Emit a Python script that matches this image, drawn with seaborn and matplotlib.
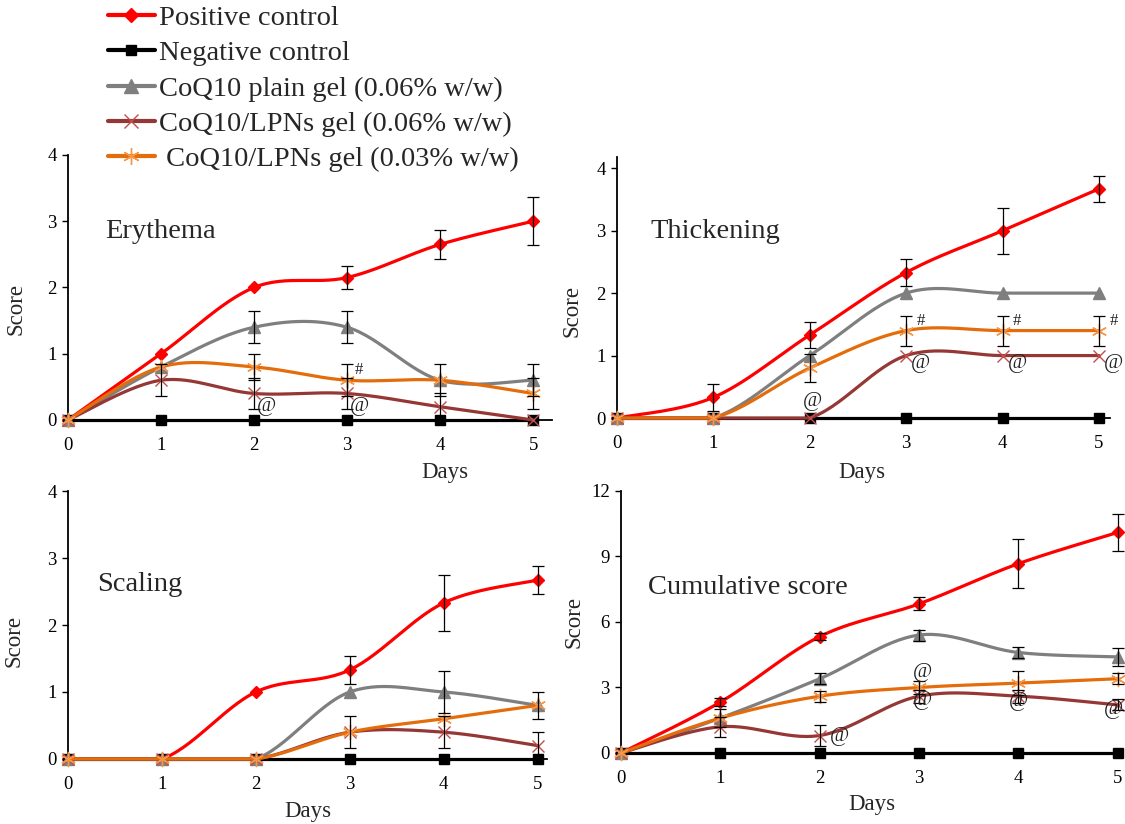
import numpy as np
import pandas as pd
import matplotlib
matplotlib.use("Agg")
import matplotlib.pyplot as plt
import seaborn as sns
from matplotlib.lines import Line2D

# ---------------- data ----------------
days = [0, 1, 2, 3, 4, 5]
series_names = ["Positive control", "Negative control",
                "CoQ10 plain gel (0.06% w/w)", "CoQ10/LPNs gel (0.06% w/w)",
                " CoQ10/LPNs gel (0.03% w/w)"]

# Erythema
ery_pos = [0, 1.0, 2.0, 2.15, 2.65, 3.0]
ery_pos_err = [0, 0, 0, 0.17, 0.22, 0.36]
ery_neg = [0, 0, 0, 0, 0, 0]
ery_plain = [0, 0.8, 1.4, 1.4, 0.6, 0.6]
ery_plain_err = [0, 0, 0.24, 0.24, 0.24, 0.24]
ery_lpn06 = [0, 0.6, 0.4, 0.4, 0.2, 0.0]
ery_lpn06_err = [0, 0.24, 0.24, 0.24, 0.2, 0]
ery_lpn03 = [0, 0.8, 0.8, 0.6, 0.6, 0.4]
ery_lpn03_err = [0, 0, 0.2, 0.24, 0, 0.24]
ery_marks = [(2.13, 0.2, "@"), (3.13, 0.2, "@"), (3.13, 0.75, "#")]

# Thickening
th_pos = [0, 0.33, 1.33, 2.33, 3.0, 3.67]
th_pos_err = [0, 0.21, 0.21, 0.21, 0.37, 0.21]
th_neg = [0, 0, 0, 0, 0, 0]
th_plain = [0, 0, 1.0, 2.0, 2.0, 2.0]
th_plain_err = [0, 0, 0, 0, 0, 0]
th_lpn06 = [0, 0, 0, 1.0, 1.0, 1.0]
th_lpn06_err = [0, 0, 0, 0, 0, 0]
th_lpn03 = [0, 0, 0.8, 1.4, 1.4, 1.4]
th_lpn03_err = [0, 0, 0.22, 0.24, 0.24, 0.24]
th_marks = [(2.03, 0.27, "@"), (3.15, 0.88, "@"), (4.15, 0.88, "@"), (5.15, 0.88, "@"),
            (3.15, 1.55, "#"), (4.15, 1.55, "#"), (5.15, 1.55, "#")]

# Scaling
sc_pos = [0, 0, 1.0, 1.33, 2.33, 2.67]
sc_pos_err = [0, 0, 0, 0.21, 0.42, 0.21]
sc_neg = [0, 0, 0, 0, 0, 0]
sc_plain = [0, 0, 0, 1.0, 1.0, 0.8]
sc_plain_err = [0, 0, 0, 0, 0.32, 0.2]
sc_lpn06 = [0, 0, 0, 0.4, 0.4, 0.2]
sc_lpn06_err = [0, 0, 0, 0.24, 0.24, 0.2]
sc_lpn03 = [0, 0, 0, 0.4, 0.6, 0.8]
sc_lpn03_err = [0, 0, 0, 0, 0, 0]
sc_marks = []

# Cumulative score
cu_pos = [0, 2.33, 5.33, 6.83, 8.67, 10.1]
cu_pos_err = [0, 0.2, 0.15, 0.3, 1.12, 0.85]
cu_neg = [0, 0, 0, 0, 0, 0]
cu_plain = [0, 1.6, 3.4, 5.4, 4.6, 4.4]
cu_plain_err = [0, 0, 0.25, 0.25, 0.25, 0.4]
cu_lpn06 = [0, 1.2, 0.8, 2.6, 2.6, 2.2]
cu_lpn06_err = [0, 0.45, 0.5, 0.3, 0.3, 0.25]
cu_lpn03 = [0, 1.6, 2.6, 3.0, 3.2, 3.4]
cu_lpn03_err = [0, 0.4, 0.25, 0.3, 0.55, 0.25]
cu_marks = [(2.2, 0.75, "@"), (3.03, 3.7, "@"), (3.03, 2.4, "@"), (4.0, 2.35, "@"), (4.96, 2.0, "@")]

# ---------------- style ----------------
sns.set_theme(style="ticks")
plt.rcParams['font.family'] = ['Liberation Serif', 'DejaVu Serif']
plt.rcParams['mathtext.default'] = 'regular'

line_colors = ["#FF0000", "#000000", "#7F7F7F", "#953735", "#E46C0A"]
mk_colors = ["#FF0000", "#000000", "#7F7F7F", "#C0504D", "#F79646"]
mk_shapes = ["D", "s", "^", "x", (6, 2, 0)]
mk_sizes = [6.5, 6.5, 9, 9, 11]
mk_mew = [1, 1, 1, 1.0, 1.0]


def smooth(x, y, n=30):
    x = np.asarray(x, float)
    y = np.asarray(y, float)
    P = np.column_stack([x, y])
    ext = np.vstack([P[0], P, P[-1]])
    out = []
    for i in range(len(P) - 1):
        p0, p1, p2, p3 = ext[i], ext[i + 1], ext[i + 2], ext[i + 3]
        c1 = p1 + (p2 - p0) / 6.0
        c2 = p2 - (p3 - p1) / 6.0
        t = np.linspace(0, 1, n, endpoint=(i == len(P) - 2))[:, None]
        b = ((1 - t) ** 3) * p1 + 3 * ((1 - t) ** 2) * t * c1 + 3 * (1 - t) * t ** 2 * c2 + t ** 3 * p2
        out.append(b)
    B = np.vstack(out)
    # the plot area clips the curve at the x axis
    return B[:, 0], np.maximum(B[:, 1], 0.0)


def panel(ax, values, errs, marks, title, ylim, yticks, xmax, title_xy, ylab_xy, xlab_xy):
    for k, (vals, err) in enumerate(zip(values, errs)):
        if k == 1:
            sx, sy = np.asarray(days, float), np.asarray(vals, float)
        else:
            sx, sy = smooth(days, vals)
        df = pd.DataFrame({"x": sx, "y": sy})
        sns.lineplot(data=df, x="x", y="y", sort=False, estimator=None, ax=ax,
                     color=line_colors[k], lw=2.3, zorder=3 + k)
        ax.lines[-1].set_clip_on(False)
        ax.plot(days, vals, ls="none", marker=mk_shapes[k], ms=mk_sizes[k],
                mfc=mk_colors[k], mec=mk_colors[k], mew=mk_mew[k],
                zorder=3.5 + k, clip_on=False)
        e = np.asarray(err, float)
        m = e > 0
        if m.any():
            ax.errorbar(np.asarray(days)[m], np.asarray(vals)[m], yerr=e[m], fmt="none",
                        ecolor="black", elinewidth=0.9, capsize=4, capthick=0.9,
                        zorder=10, clip_on=False)
    for (mx, my, t) in marks:
        fs = 15 if t == "@" else 12
        ax.text(mx, my, t, ha="center", va="center", fontsize=fs, color="#222222", zorder=12)
    ax.set_xlim(0, xmax)
    ax.set_ylim(*ylim)
    ax.set_xticks(days)
    ax.set_yticks(yticks)
    ax.tick_params(axis="y", labelsize=13.5, direction="out", length=4, width=1,
                   colors="black", pad=4)
    ax.tick_params(axis="x", labelsize=13.5, direction="out", length=0, width=1,
                   colors="black", pad=12)
    for s in ["top", "right"]:
        ax.spines[s].set_visible(False)
    for s in ["left", "bottom"]:
        ax.spines[s].set_linewidth(1.3)
        ax.spines[s].set_color("black")
    ax.set_xlabel("Days", fontsize=16.5)
    ax.set_ylabel("Score", fontsize=16.5)
    ax.xaxis.set_label_coords(*xlab_xy)
    ax.yaxis.set_label_coords(*ylab_xy)
    ax.text(title_xy[0], title_xy[1], title, transform=ax.transAxes, fontsize=20.5,
            ha="left", va="center")
    ax.set_facecolor("white")


fig = plt.figure(figsize=(11.25, 8.24), dpi=100)
fig.patch.set_facecolor("white")

ax1 = fig.add_axes([0.0604, 0.4903, 0.430, 0.3216])
ax2 = fig.add_axes([0.5484, 0.4927, 0.4379, 0.3168])
ax3 = fig.add_axes([0.0604, 0.0789, 0.4258, 0.3252])
ax4 = fig.add_axes([0.552, 0.0862, 0.446, 0.318])

panel(ax1, [ery_pos, ery_neg, ery_plain, ery_lpn06, ery_lpn03],
      [ery_pos_err, [0] * 6, ery_plain_err, ery_lpn06_err, ery_lpn03_err], ery_marks,
      "Erythema", (0, 4), [0, 1, 2, 3, 4], 5.2, (0.077, 0.71), (-0.085, 0.42), (0.78, -0.16))
panel(ax2, [th_pos, th_neg, th_plain, th_lpn06, th_lpn03],
      [th_pos_err, [0] * 6, th_plain_err, th_lpn06_err, th_lpn03_err], th_marks,
      "Thickening", (0, 4.18), [0, 1, 2, 3, 4], 5.11, (0.067, 0.713), (-0.07, 0.41), (0.497, -0.168))
panel(ax3, [sc_pos, sc_neg, sc_plain, sc_lpn06, sc_lpn03],
      [sc_pos_err, [0] * 6, sc_plain_err, sc_lpn06_err, sc_lpn03_err], sc_marks,
      "Scaling", (0, 4), [0, 1, 2, 3, 4], 5.1, (0.06, 0.65), (-0.09, 0.44), (0.5, -0.155))
panel(ax4, [cu_pos, cu_neg, cu_plain, cu_lpn06, cu_lpn03],
      [cu_pos_err, [0] * 6, cu_plain_err, cu_lpn06_err, cu_lpn03_err], cu_marks,
      "Cumulative score", (0, 12), [0, 3, 6, 9, 12], 5.05, (0.054, 0.63), (-0.072, 0.5), (0.5, -0.155))

handles = [Line2D([0], [0], color=line_colors[k], lw=3, marker=mk_shapes[k], ms=mk_sizes[k] + 1,
                  mfc=mk_colors[k], mec=mk_colors[k], mew=mk_mew[k]) for k in range(5)]
fig.legend(handles, series_names, loc="upper left", bbox_to_anchor=(0.096, 0.994),
           frameon=False, fontsize=20.5, handlelength=1.65, handletextpad=0.15,
           labelspacing=0.33, borderpad=0, borderaxespad=0)

fig.savefig("out.png", dpi=100, facecolor="white")
